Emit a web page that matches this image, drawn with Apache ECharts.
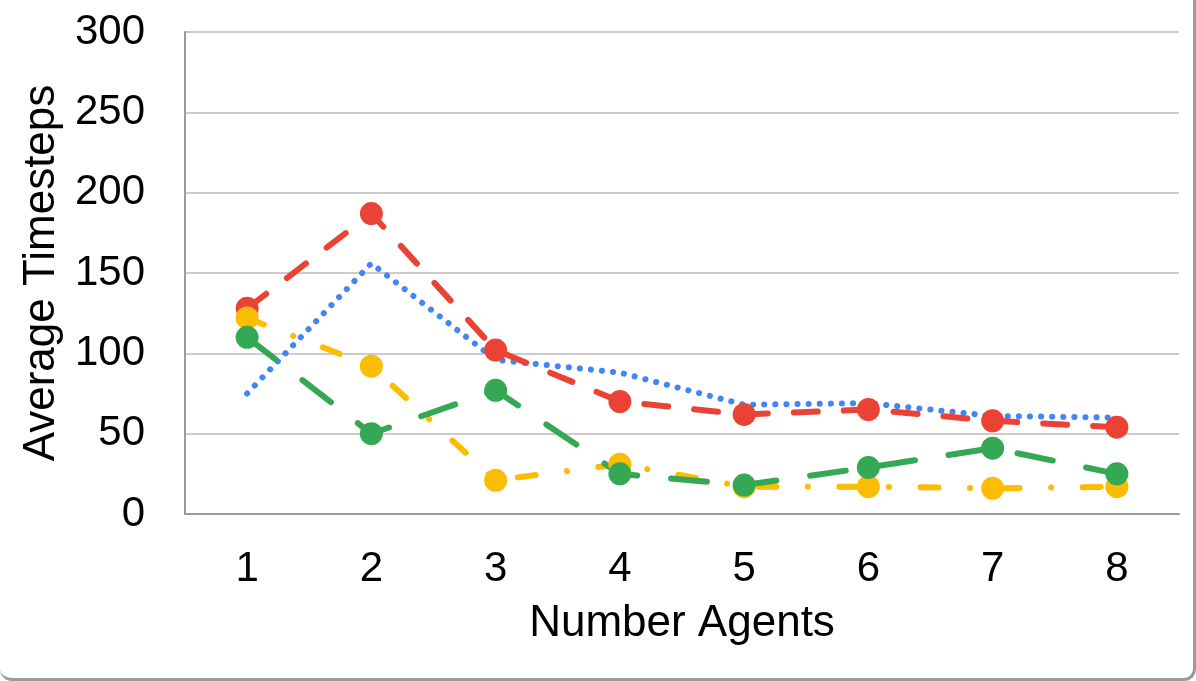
<!DOCTYPE html>
<html>
<head>
<meta charset="utf-8">
<script src="https://cdn.jsdelivr.net/npm/echarts@6/dist/echarts.min.js"></script>
<style>
html, body { margin: 0; padding: 0; background: #fff; }
#chart {
	width: 1196px; height: 681px; box-sizing: border-box;
	border-right: 3px solid #9a9a9a; border-bottom: 3px solid #9a9a9a;
	border-radius: 0 0 12px 12px;
}
</style>
</head>
<body>
<div id="chart"></div>
<script>
// 横轴类别：智能体数量
var agents = ['1', '2', '3', '4', '5', '6', '7', '8'];
// 四条曲线
var blueVals = [75, 156, 96, 88, 68, 69, 61, 60];
var redVals = [128, 187, 102, 70, 62, 65, 58, 54];
var yellowVals = [122, 92, 21, 31, 17, 17, 16, 17];
var greenVals = [110, 50, 77, 25, 18, 29, 41, 25];
// 纵轴刻度
var yMin = 0, yMax = 300, yStep = 50;

var myChart = echarts.init(document.getElementById('chart'));
var font = 'Liberation Sans, Arial, sans-serif';

function lineSeries(name, data, color, dash, withSymbol){
	return {
		name : name,
		type : 'line',
		data : data,
		showSymbol : withSymbol,
		symbol : 'circle',
		symbolSize : 23,
		itemStyle : { color : color },
		lineStyle : { color : color, width : 6, type : dash, cap : 'round' },
		animation : false
	};
}

var option = {
	grid : { left : 185, right : 14, top : 32, bottom : 164 },
	xAxis : {
		type : 'category',
		data : agents,
		boundaryGap : true,
		name : 'Number Agents',
		nameLocation : 'middle',
		nameGap : 88,
		nameTextStyle : { fontFamily : font, fontSize : 44, color : '#000' },
		axisLine : { lineStyle : { color : '#999', width : 2 } },
		axisTick : { show : false },
		axisLabel : { fontFamily : font, fontSize : 42, color : '#000', margin : 34 }
	},
	yAxis : {
		type : 'value',
		min : yMin, max : yMax, interval : yStep,
		name : 'Average Timesteps',
		nameLocation : 'middle',
		nameGap : 118,
		nameTextStyle : { fontFamily : font, fontSize : 44, color : '#000' },
		axisLine : { show : true, lineStyle : { color : '#999', width : 2 } },
		axisTick : { show : false },
		axisLabel : { fontFamily : font, fontSize : 42, color : '#000', margin : 40 },
		splitLine : { lineStyle : { color : '#bbb', width : 1.5 } }
	},
	series : [
		lineSeries('blue', blueVals, '#4285F4', [0.1, 11], false),
		lineSeries('red', redVals, '#EA4335', [24, 26], true),
		lineSeries('yellow', yellowVals, '#FBBC04', [18, 31.5, 0.1, 31.5], true),
		lineSeries('green', greenVals, '#34A853', [36, 34], true)
	]
};
myChart.setOption(option);
</script>
</body>
</html>
